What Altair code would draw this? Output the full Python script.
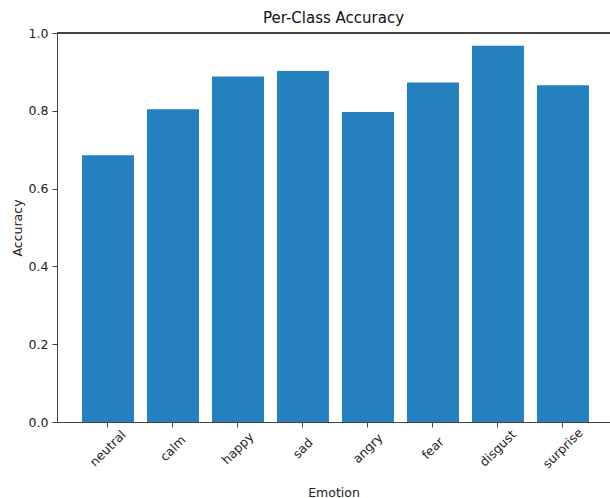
import altair as alt
import pandas as pd

emotions = ["neutral", "calm", "happy", "sad", "angry", "fear", "disgust", "surprise"]
accuracy = [0.686, 0.804, 0.888, 0.902, 0.797, 0.873, 0.967, 0.866]

df = pd.DataFrame({"Emotion": emotions, "Accuracy": accuracy})

FONT = "DejaVu Sans"
W, H = 553, 389

bars = alt.Chart(df).mark_bar(color="#2580c0").encode(
    x=alt.X(
        "Emotion:N",
        sort=emotions,
        scale=alt.Scale(paddingInner=0.2, paddingOuter=0.354, align=0.543),
        axis=alt.Axis(
            title="Emotion",
            labelAngle=-45,
            labelAlign="center",
            labelBaseline="middle",
            labelPadding=21,
            tickSize=5,
            titleY=74,
            titleBaseline="alphabetic",
        ),
    ),
    y=alt.Y(
        "Accuracy:Q",
        scale=alt.Scale(domain=[0, 1], nice=False),
        axis=alt.Axis(
            title="Accuracy",
            values=[0, 0.2, 0.4, 0.6, 0.8, 1.0],
            format=".1f",
            grid=False,
            tickSize=5,
            labelPadding=4,
            titleX=-40,
            titleY=H / 2,
            titleBaseline="middle",
            titleAngle=-90,
        ),
    ),
)

top_rule = alt.Chart(df).mark_rule(color="#444444", strokeWidth=1).encode(
    x=alt.value(0), x2=alt.value(W), y=alt.value(0)
)

chart = (
    alt.layer(bars, top_rule)
    .properties(
        width=W,
        height=H,
        title=alt.TitleParams(
            "Per-Class Accuracy",
            font=FONT,
            fontSize=15,
            fontWeight="normal",
            color="#111111",
            baseline="alphabetic",
            offset=9,
            dy=20,
        ),
        autosize=alt.AutoSizeParams(type="none"),
        padding={"left": 57, "top": 33, "right": 0, "bottom": 76},
        background="white",
    )
    .configure_view(stroke=None)
    .configure_axis(
        labelFont=FONT,
        titleFont=FONT,
        labelFontSize=12.5,
        titleFontSize=12.5,
        titleFontWeight="normal",
        labelColor="#222222",
        titleColor="#222222",
        domainColor="#444444",
        tickColor="#444444",
        domainWidth=1,
        tickWidth=1,
    )
)

chart.save("out.html", embed_options={"renderer": "svg", "actions": False})
